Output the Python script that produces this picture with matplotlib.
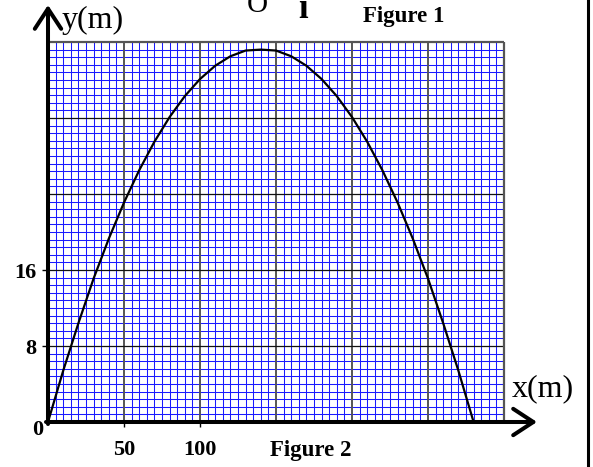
import numpy as np
import matplotlib; matplotlib.use("Agg"); import matplotlib.pyplot as plt

# trajectory (x in m, y in m)
x_m = [0, 10, 20, 30, 40, 50, 60, 70, 80, 90, 100, 110, 120, 130, 140,
       150, 160, 170, 180, 190, 200, 210, 220, 230, 240, 250, 260, 270, 280]
y_m = [0, 5.4, 10.4, 15.1, 19.3, 23.1, 26.5, 29.5, 32.1, 34.3, 36.1, 37.5, 38.5, 39.1, 39.2,
       39.1, 38.5, 37.5, 36.1, 34.3, 32.1, 29.5, 26.5, 23.1, 19.3, 15.1, 10.4, 5.4, 0]
x_ticks = [50, 100]
x_ticklabels = ["50", "100"]
y_ticks = [8, 16]
y_ticklabels = ["8", "16"]

W, H = 593, 467
serif = "Liberation Serif"
fig = plt.figure(figsize=(W / 100, H / 100), dpi=100)
ax = fig.add_axes([48 / W, (H - 422) / H, 456 / W, 380 / H])
ax.set_xlim(0, 300); ax.set_ylim(0, 40)
for s in ax.spines.values():
    s.set_visible(False)

# graph paper
minor_x = [v for v in np.arange(5, 300, 5) if v % 50]
minor_y = [v for v in np.arange(0.8, 40, 0.8) if abs(v / 8 - round(v / 8)) > 1e-6]
ax.vlines(minor_x, 0, 40, color="#1a1aff", lw=0.75, zorder=1)
ax.hlines(minor_y, 0, 300, color="#1a1aff", lw=0.75, zorder=1)
ax.vlines(np.arange(50, 300, 50), 0, 40, color="#555555", lw=1.4, zorder=2)
ax.hlines(np.arange(8, 40, 8), 0, 300, color="#111111", lw=0.9, zorder=2)
ax.hlines([40], 0, 300, color="#555555", lw=1.6, zorder=2, clip_on=False)
ax.vlines([300], 0, 40, color="#555555", lw=1.6, zorder=2, clip_on=False)

ax.plot(x_m, y_m, color="black", lw=1.6, zorder=3)

ax.set_xticks(x_ticks, x_ticklabels)
ax.set_yticks(y_ticks, y_ticklabels)
ax.tick_params(axis="x", length=3.6, width=1, pad=9.5)
ax.tick_params(axis="y", length=4.3, width=1, pad=4.3)
for lab in ax.get_xticklabels() + ax.get_yticklabels():
    lab.set_fontfamily(serif); lab.set_fontweight("bold"); lab.set_fontsize(16)
ax.annotate("0", xy=(0, 0), xytext=(-7.6, -5.8), textcoords="offset points",
            ha="center", va="center", family=serif, weight="bold", fontsize=16,
            annotation_clip=False)

# thick axes with open arrowheads
arrow = dict(arrowstyle="->,head_length=1.45,head_width=0.95", lw=2.9, color="black",
             mutation_scale=10, shrinkA=0, shrinkB=0)
ax.annotate("", xy=(48, H - 5), xytext=(48, H - 424), xycoords="figure pixels",
            textcoords="figure pixels", arrowprops=arrow, annotation_clip=False)
ax.annotate("", xy=(537, H - 422), xytext=(46, H - 422), xycoords="figure pixels",
            textcoords="figure pixels", arrowprops=arrow, annotation_clip=False)

px = lambda x, y: (x / W, (H - y) / H)
fig.text(*px(62, 20), "y(m)", family=serif, fontsize=23, ha="left", va="center")
fig.text(*px(512, 389), "x(m)", family=serif, fontsize=23, ha="left", va="center")
fig.text(*px(257, 12), "O", family=serif, fontsize=21, ha="center", va="baseline")
fig.text(*px(303, 18), "ī", family=serif, weight="bold", fontsize=25, ha="center", va="baseline")
fig.text(*px(404, 22), "Figure 1", family=serif, weight="bold", fontsize=16.5, ha="center", va="baseline")
fig.text(*px(311, 456), "Figure 2", family=serif, weight="bold", fontsize=16.5, ha="center", va="baseline")
fig.add_artist(plt.Line2D([588 / W, 588 / W], [0, 1], color="black", lw=2.2))

fig.savefig("out.png", dpi=100)
